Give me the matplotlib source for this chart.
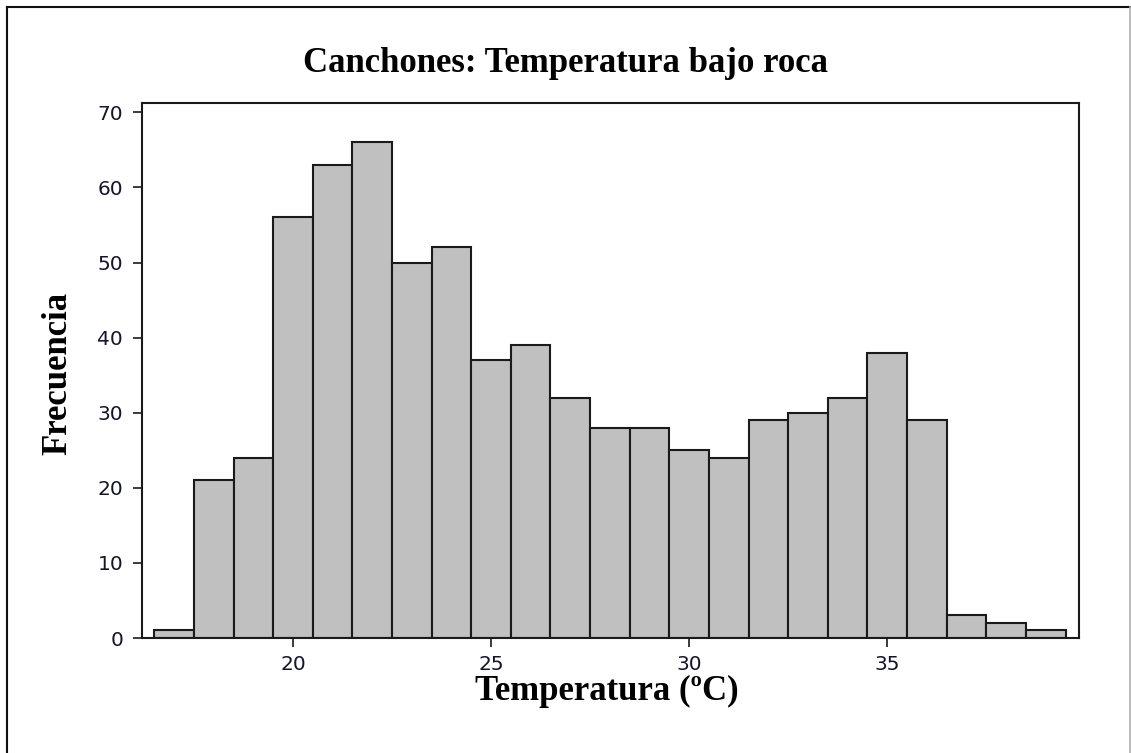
import numpy as np
import matplotlib
matplotlib.use("Agg")
import matplotlib.pyplot as plt
from matplotlib.lines import Line2D

# temperature bins (1 degree wide, centred on whole degrees) and counts
bin_centers = list(range(17, 40))
counts = [1, 21, 24, 56, 63, 66, 50, 52, 37, 39, 32, 28, 28, 25, 24,
          29, 30, 32, 38, 29, 3, 2, 1]
x_ticks = [20, 25, 30, 35]
y_ticks = [0, 10, 20, 30, 40, 50, 60, 70]

W, H = 1131, 753
fig = plt.figure(figsize=(W / 100, H / 100), dpi=100)
ax = fig.add_axes([142 / W, 1 - 638 / H, (1079 - 142) / W, (638 - 103) / H])

ax.bar(bin_centers, counts, width=1.0, color="#c0c0c0", edgecolor="#1a1a1a", linewidth=1.5)

ax.set_xlim(16.19, 39.84)
ax.set_ylim(0, 71.24)
ax.set_xticks(x_ticks)
ax.set_yticks(y_ticks)
ax.tick_params(direction="out", length=6.5, width=1.2, labelsize=14.5,
               colors="#1a1a1a", labelcolor="#14142a")
ax.tick_params(axis="x", pad=6)
ax.tick_params(axis="y", pad=7)
for s in ax.spines.values():
    s.set_linewidth(1.5)
    s.set_color("#1a1a1a")

serif = dict(family="Liberation Serif", weight="bold", color="black")
fig.text(0.5, 1 - 63 / H, "Canchones: Temperatura bajo roca", ha="center", va="center",
         fontsize=25, **serif)
ax.set_xlabel("Temperatura (ºC)", fontsize=25, **serif)
ax.set_ylabel("Frecuencia", fontsize=25, **serif)
ax.xaxis.set_label_coords(0.496, (638 - 691) / 535)
ax.yaxis.set_label_coords((58 - 142) / 937, 0.495)
ax.xaxis.label.set_va("center")
ax.yaxis.label.set_va("center")

# frame around the figure: dark left/top edges, light right edge
fig.lines.append(Line2D([6.5 / W, 6.5 / W], [0, 1 - 6.5 / H], transform=fig.transFigure,
                        color="#111111", linewidth=1.5))
fig.lines.append(Line2D([6.5 / W, 1130 / W], [1 - 6.5 / H, 1 - 6.5 / H], transform=fig.transFigure,
                        color="#111111", linewidth=1.5))
fig.lines.append(Line2D([1130 / W, 1130 / W], [0, 1 - 6.5 / H], transform=fig.transFigure,
                        color="#b0b0b0", linewidth=1.2))

fig.savefig("out.png", dpi=100)
